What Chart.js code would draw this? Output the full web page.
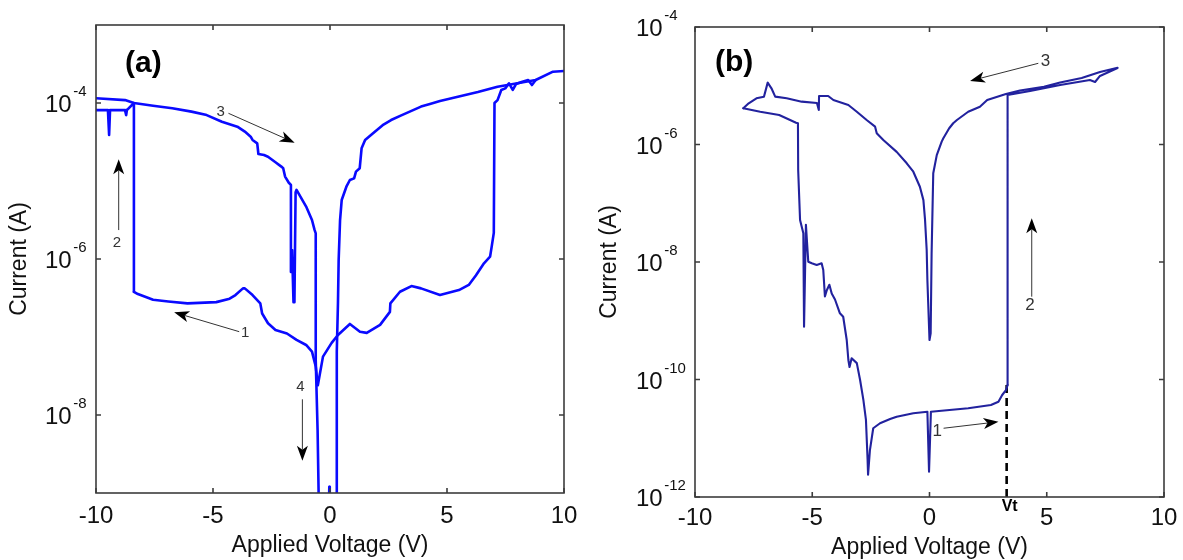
<!DOCTYPE html>
<html>
<head>
<meta charset="utf-8">
<title>Current–voltage sweeps (a) and (b)</title>
<script src="https://cdn.jsdelivr.net/npm/chart.js@4.4.1/dist/chart.umd.min.js"></script>
<style>
  html, body { margin: 0; padding: 0; background: #fff; }
  #wrap { position: relative; width: 1183px; height: 560px; overflow: hidden; background: #fff; }
  canvas { position: absolute; top: 0; }
  #chartA { left: 0; }
  #chartB { left: 590px; }
</style>
</head>
<body>
<div id="wrap">
  <canvas id="chartA" width="590" height="560"></canvas>
  <canvas id="chartB" width="593" height="560"></canvas>
</div>
<script>
// ---------------- Panel (a) ----------------
// branch 1: low state, sweeping from 0 V toward negative bias
const aLowNegV = [-0.53, -0.61, -0.77, -1.02, -1.43, -1.84, -2.33, -2.65, -2.90, -2.98, -3.31, -3.64, -3.72, -4.04, -4.29, -4.86, -6.09, -6.91, -7.56, -8.21, -8.38];
const aLowNegI = [2.5e-8, 4.2e-8, 6.5e-8, 7.9e-8, 9.2e-8, 1.11e-7, 1.23e-7, 1.50e-7, 2.0e-7, 2.7e-7, 3.45e-7, 4.2e-7, 4.2e-7, 3.45e-7, 3.1e-7, 2.8e-7, 2.7e-7, 2.85e-7, 3.0e-7, 3.55e-7, 3.8e-7];
// branch 2: switching at -8.4 V and the noisy end of the sweep
const aSetV = [-8.38, -8.38, -8.68, -8.71, -8.76, -9.40, -9.44, -9.49, -10.0];
const aSetI = [3.8e-7, 1.0e-4, 8.1e-5, 7.0e-5, 8.1e-5, 8.1e-5, 3.9e-5, 8.1e-5, 8.1e-5];
// branch 3: high state returning from -10 V, then branch 4 dropping near 0 V
const aHighV = [-10.0, -8.76, -8.38, -7.56, -6.74, -5.92, -5.27, -4.62, -3.96, -3.64, -3.39, -3.31, -3.11, -3.06, -2.82, -2.65, -2.33, -2.08, -2.00, -1.92, -1.76, -1.67, -1.67, -1.62, -1.56, -1.52, -1.47, -1.43, -1.02, -0.77, -0.66, -0.61, -0.61, -0.53, -0.47];
const aHighI = [1.15e-4, 1.09e-4, 1.0e-4, 9.2e-5, 8.55e-5, 7.75e-5, 7.0e-5, 5.75e-5, 4.97e-5, 4.3e-5, 3.7e-5, 3.36e-5, 3.04e-5, 2.22e-5, 2.15e-5, 2.05e-5, 1.74e-5, 1.53e-5, 1.46e-5, 1.14e-5, 9.5e-6, 8.9e-6, 6.8e-7, 1.3e-6, 2.8e-7, 2.8e-7, 7.2e-6, 7.7e-6, 4.7e-6, 3.16e-6, 2.36e-6, 2.13e-6, 5.1e-8, 6.4e-9, 5e-10];
// positive bias, high-state branch rising out of the 0 V dip
const aRiseV = [0.29, 0.29, 0.34, 0.37, 0.43, 0.50, 0.70, 0.85, 1.03, 1.11, 1.27, 1.35, 1.50, 1.84, 2.25, 2.61, 3.07, 3.89, 4.27, 4.70, 5.51, 6.32, 7.16, 7.95, 8.79, 9.53, 10.0];
const aRiseI = [5e-10, 6.5e-8, 2.7e-7, 9.7e-7, 3.16e-6, 5.7e-6, 8.45e-6, 1.03e-5, 1.08e-5, 1.32e-5, 1.46e-5, 2.62e-5, 3.36e-5, 4.1e-5, 5.2e-5, 6.05e-5, 7.0e-5, 9.0e-5, 9.7e-5, 1.06e-4, 1.21e-4, 1.38e-4, 1.62e-4, 1.78e-4, 1.97e-4, 2.52e-4, 2.57e-4];
// positive bias, low-state branch switching at +7 V
const aLowPosV = [-0.52, -0.30, 0.07, 0.34, 0.85, 1.28, 1.57, 2.14, 2.56, 2.58, 2.99, 3.48, 3.89, 4.70, 5.51, 5.93, 6.24, 6.58, 6.84, 6.91, 7.00, 7.03, 7.16, 7.32, 7.49, 7.65, 7.81, 7.95, 8.22, 8.47, 8.63, 8.79];
const aLowPosI = [2.4e-8, 5.6e-8, 8.4e-8, 1.06e-7, 1.47e-7, 1.17e-7, 1.13e-7, 1.43e-7, 2.1e-7, 2.7e-7, 3.8e-7, 4.5e-7, 4.2e-7, 3.45e-7, 4.0e-7, 4.65e-7, 6.2e-7, 8.8e-7, 1.07e-6, 1.44e-6, 2.16e-6, 1.0e-4, 1.09e-4, 1.47e-4, 1.54e-4, 1.79e-4, 1.47e-4, 1.75e-4, 1.87e-4, 1.97e-4, 1.70e-4, 1.97e-4];
// short blip at 0 V near the bottom of the range
const aBlipV = [-0.05, -0.03, -0.01];
const aBlipI = [5e-10, 1.2e-9, 5e-10];

// ---------------- Panel (b) ----------------
// reset at -5.5 V, low state and sweep up to the threshold Vt
const bLowV = [-7.94, -7.22, -6.41, -5.69, -5.61, -5.60, -5.52, -5.38, -5.35, -5.27, -5.17, -5.02, -4.81, -4.60, -4.53, -4.46, -4.38, -4.27, -4.17, -4.03, -3.82, -3.68, -3.53, -3.46, -3.41, -3.32, -3.10, -2.96, -2.82, -2.71, -2.64, -2.62, -2.54, -2.40, -2.11, -1.68, -1.40, -0.69, -0.09, -0.02, 0.06, 1.65, 2.62, 2.94, 3.10, 3.26, 3.33];
const bLowI = [4.13e-6, 3.61e-6, 3.18e-6, 2.35e-6, 2.30e-6, 3.68e-7, 5.2e-8, 3.1e-8, 7.9e-10, 4.3e-8, 1.01e-8, 9.5e-9, 8.9e-9, 9.5e-9, 7.3e-9, 2.6e-9, 3.3e-9, 4.1e-9, 2.9e-9, 2.3e-9, 1.34e-9, 1.17e-9, 4.7e-10, 2.15e-10, 1.63e-10, 2.3e-10, 1.9e-10, 9.8e-11, 4.5e-11, 2.05e-11, 4.3e-12, 2.4e-12, 6.3e-12, 1.48e-11, 1.8e-11, 2.13e-11, 2.33e-11, 2.66e-11, 2.83e-11, 2.7e-12, 2.83e-11, 3.24e-11, 3.68e-11, 4.19e-11, 5.45e-11, 6.6e-11, 8.05e-11];
// set at Vt, high state out to +8 V and back through the 0 V dip to -8 V
const bHighV = [3.33, 3.33, 4.29, 5.57, 6.84, 7.06, 7.27, 8.02, 8.02, 7.27, 6.49, 5.57, 4.88, 3.86, 3.26, 2.46, 2.15, 1.65, 1.17, 1.01, 0.84, 0.59, 0.52, 0.31, 0.16, 0.09, 0.05, 0.0, -0.09, -0.12, -0.19, -0.26, -0.41, -0.69, -0.97, -1.40, -1.97, -2.25, -2.32, -2.68, -3.10, -3.46, -4.10, -4.32, -4.71, -4.72, -4.80, -5.45, -6.09, -6.58, -6.74, -6.90, -7.06, -7.38, -7.71, -7.94];
const bHighI = [8.05e-11, 6.97e-6, 8.15e-6, 1.03e-5, 1.25e-5, 1.16e-5, 1.47e-5, 2.0e-5, 2.03e-5, 1.71e-5, 1.36e-5, 1.14e-5, 9.6e-6, 8.3e-6, 7.24e-6, 5.71e-6, 4.40e-6, 3.61e-6, 2.61e-6, 2.30e-6, 1.89e-6, 1.28e-6, 1.12e-6, 6.6e-7, 3.24e-7, 1.41e-8, 6.1e-10, 4.7e-10, 4.9e-9, 1.6e-8, 5.2e-8, 1.13e-7, 1.91e-7, 3.44e-7, 4.79e-7, 7.5e-7, 1.19e-6, 1.55e-6, 2.01e-6, 2.61e-6, 3.61e-6, 4.70e-6, 5.71e-6, 6.7e-6, 6.7e-6, 3.86e-6, 5.08e-6, 5.36e-6, 6.11e-6, 6.52e-6, 9.05e-6, 1.13e-5, 6.52e-6, 6.11e-6, 5.02e-6, 4.13e-6];
// threshold voltage marker
const bVt = 3.29;
const bVtI = [8.05e-11, 1e-12];

// ---------------- axes ----------------
const xTickValues = [-10, -5, 0, 5, 10];
const xTickLabels = ['-10', '-5', '0', '5', '10'];
const aYTicks = [1e-4, 1e-6, 1e-8];
const aYExp = ['-4', '-6', '-8'];
const bYTicks = [1e-4, 1e-6, 1e-8, 1e-10, 1e-12];
const bYExp = ['-4', '-6', '-8', '-10', '-12'];
const xTitle = 'Applied Voltage (V)';
const yTitle = 'Current (A)';

// ---------------- annotations (arrows point along the sweep direction) ----------------
const aArrows = [
  { from: [-4.34, 7.38e-5], to: [-1.51, 3.10e-5], label: '3', at: [-4.67, 7.6e-5] },
  { from: [-9.03, 2.35e-6], to: [-9.03, 1.90e-5], label: '2', at: [-9.11, 1.6e-6] },
  { from: [-3.88, 1.17e-7], to: [-6.66, 2.07e-7], label: '1', at: [-3.62, 1.13e-7] },
  { from: [-1.18, 1.59e-8], to: [-1.18, 2.6e-9], label: '4', at: [-1.26, 2.3e-8] }
];
const bArrows = [
  { from: [4.64, 2.41e-5], to: [1.73, 1.21e-5], label: '3', at: [4.95, 2.6e-5] },
  { from: [4.36, 2.57e-9], to: [4.36, 5.54e-8], label: '2', at: [4.28, 1.8e-9] },
  { from: [0.60, 1.48e-11], to: [2.94, 1.91e-11], label: '1', at: [0.33, 1.3e-11] }
];

const FONT = '"Liberation Sans", Arial, Helvetica, sans-serif';

function pts(V, I) { return V.map((v, i) => ({ x: v, y: I[i] })); }

function line(V, I, color, width) {
  return {
    data: pts(V, I), borderColor: color, borderWidth: width, pointRadius: 0,
    tension: 0, fill: false, borderJoinStyle: 'round', borderCapStyle: 'round', clip: 0
  };
}

function drawArrow(ctx, x1, y1, x2, y2) {
  const ang = Math.atan2(y2 - y1, x2 - x1);
  const L = 15, W = 5.5, N = 4;
  const bx = x2 - L * Math.cos(ang), by = y2 - L * Math.sin(ang);
  ctx.strokeStyle = '#333'; ctx.lineWidth = 1;
  ctx.beginPath(); ctx.moveTo(x1, y1); ctx.lineTo(bx + N * Math.cos(ang), by + N * Math.sin(ang)); ctx.stroke();
  ctx.fillStyle = '#000';
  ctx.beginPath();
  ctx.moveTo(x2, y2);
  ctx.lineTo(bx - W * Math.sin(ang), by + W * Math.cos(ang));
  ctx.lineTo(bx + N * Math.cos(ang), by + N * Math.sin(ang));
  ctx.lineTo(bx + W * Math.sin(ang), by - W * Math.cos(ang));
  ctx.closePath(); ctx.fill();
}

// frame, inward ticks, tick labels with exponents, titles and sweep arrows
const decor = {
  id: 'decor',
  afterDatasetsDraw(chart, args, o) {
    const { ctx, chartArea: a, scales: { x, y } } = chart;
    ctx.save();
    ctx.strokeStyle = '#3c3c3c'; ctx.lineWidth = 1.6;
    ctx.strokeRect(a.left, a.top, a.right - a.left, a.bottom - a.top);
    ctx.beginPath();
    xTickValues.forEach(v => {
      const px = x.getPixelForValue(v);
      ctx.moveTo(px, a.bottom); ctx.lineTo(px, a.bottom - 5);
      ctx.moveTo(px, a.top); ctx.lineTo(px, a.top + 5);
    });
    o.yTicks.forEach(v => {
      const py = y.getPixelForValue(v);
      ctx.moveTo(a.left, py); ctx.lineTo(a.left + 5, py);
      ctx.moveTo(a.right, py); ctx.lineTo(a.right - 5, py);
    });
    ctx.stroke();

    ctx.fillStyle = '#111';
    ctx.font = '24px ' + FONT;
    ctx.textAlign = 'center'; ctx.textBaseline = 'alphabetic';
    xTickValues.forEach((v, i) => ctx.fillText(xTickLabels[i], x.getPixelForValue(v), a.bottom + o.xLabelDy));

    o.yTicks.forEach((v, i) => {
      const py = y.getPixelForValue(v);
      ctx.textAlign = 'left';
      ctx.font = '24px ' + FONT;
      const lx = a.left - o.yLabelDx;
      ctx.fillText('10', lx, py + 9);
      const w = ctx.measureText('10').width;
      ctx.font = '15px ' + FONT;
      ctx.fillText(o.yExp[i], lx + w + 1.5, py - 7);
    });

    ctx.font = '23px ' + FONT;
    ctx.textAlign = 'center';
    ctx.fillText(xTitle, (a.left + a.right) / 2, a.bottom + o.xTitleDy);
    ctx.save();
    ctx.translate(a.left - o.yTitleDx, (a.top + a.bottom) / 2);
    ctx.rotate(-Math.PI / 2);
    ctx.textBaseline = 'middle';
    ctx.fillText(yTitle, 0, 0);
    ctx.restore();

    ctx.font = 'bold 30px ' + FONT;
    ctx.textAlign = 'left'; ctx.fillStyle = '#000';
    ctx.fillText(o.panel, a.left + o.panelDx, a.top + o.panelDy);

    o.arrows.forEach(ar => {
      drawArrow(ctx, x.getPixelForValue(ar.from[0]), y.getPixelForValue(ar.from[1]),
                x.getPixelForValue(ar.to[0]), y.getPixelForValue(ar.to[1]));
      ctx.fillStyle = '#333';
      ctx.font = o.noteFont + 'px ' + FONT;
      ctx.textAlign = 'center'; ctx.textBaseline = 'middle';
      ctx.fillText(ar.label, x.getPixelForValue(ar.at[0]), y.getPixelForValue(ar.at[1]));
      ctx.textBaseline = 'alphabetic';
    });

    if (o.vt) {
      ctx.fillStyle = '#000';
      ctx.font = 'bold 16px ' + FONT;
      ctx.textAlign = 'center';
      ctx.fillText('Vt', x.getPixelForValue(o.vt) + 3, a.bottom + 14);
    }
    ctx.restore();
  }
};

function makeChart(id, datasets, yMin, yMax, padding, decorOpts) {
  return new Chart(document.getElementById(id), {
    type: 'line',
    data: { datasets },
    options: {
      responsive: false, animation: false, devicePixelRatio: 1,
      layout: { padding },
      plugins: { legend: { display: false }, tooltip: { enabled: false }, decor: decorOpts },
      scales: {
        x: { type: 'linear', min: -10, max: 10, display: false },
        y: { type: 'logarithmic', min: yMin, max: yMax, display: false }
      }
    },
    plugins: [decor]
  });
}

const blueA = '#0a0aff';
makeChart('chartA', [
  line(aLowNegV, aLowNegI, blueA, 2.6),
  line(aSetV, aSetI, blueA, 2.6),
  line(aHighV, aHighI, blueA, 2.6),
  line(aRiseV, aRiseI, blueA, 2.6),
  line(aLowPosV, aLowPosI, blueA, 2.6),
  line(aBlipV, aBlipI, blueA, 2.6)
], 1e-9, 1e-3, { left: 96, right: 26, top: 25, bottom: 67 }, {
  yTicks: aYTicks, yExp: aYExp, xLabelDy: 30, xTitleDy: 59, yLabelDx: 51, yTitleDx: 76,
  panel: '(a)', panelDx: 29, panelDy: 47, arrows: aArrows, noteFont: 15
});

const blueB = '#22229e';
const vtLine = line([bVt, bVt], bVtI, '#000', 2.6);
vtLine.borderDash = [8, 5];
vtLine.borderCapStyle = 'butt';
makeChart('chartB', [
  line(bLowV, bLowI, blueB, 2.1),
  line(bHighV, bHighI, blueB, 2.1),
  vtLine
], 1e-12, 1e-4, { left: 105, right: 19, top: 27, bottom: 63 }, {
  yTicks: bYTicks, yExp: bYExp, xLabelDy: 28, xTitleDy: 57, yLabelDx: 59, yTitleDx: 85,
  panel: '(b)', panelDx: 20, panelDy: 44, arrows: bArrows, noteFont: 17, vt: bVt
});
</script>
</body>
</html>
